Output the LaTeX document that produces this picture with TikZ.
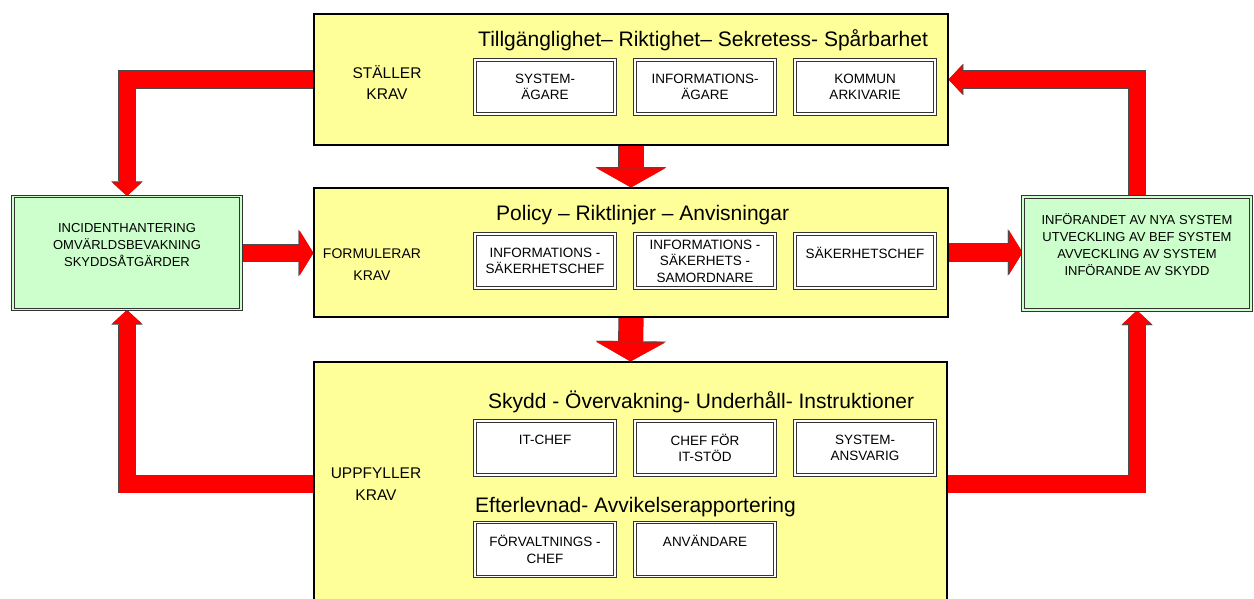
\documentclass[tikz,border=0pt]{standalone}
\usepackage{fontspec}
\setmainfont{Liberation Sans}
\usetikzlibrary{arrows.meta,positioning,backgrounds}
\definecolor{boxyellow}{HTML}{FFFF99}
\definecolor{boxgreen}{HTML}{CCFFCC}
\begin{document}
\begin{tikzpicture}[x=1pt,y=-1pt,
		bigbox/.style={rectangle,draw,line width=1.3pt,fill=boxyellow,inner sep=0pt},
		greenbox/.style={rectangle,draw=black!80,line width=1pt,double=boxgreen,double distance=1.5pt,fill=boxgreen,
			minimum width=228,minimum height=113,inner sep=0pt,align=center,font=\fontsize{13}{17}\selectfont},
		rolebox/.style={rectangle,draw=black!80,line width=1pt,double=white,double distance=1.5pt,fill=white,
			minimum width=140,minimum height=54,inner sep=0pt,align=center,font=\fontsize{13.5}{16.5}\selectfont},
		kravlabel/.style={align=center,inner sep=0pt,font=\fontsize{15.5}{21.5}\selectfont},
		heading/.style={anchor=base west,inner sep=0pt,font=\fontsize{21}{24}\selectfont},
		downarrow/.style={draw=red,line width=24pt,-{Triangle[length=19pt,width=68pt,line width=0.1pt]},
			preaction={draw=black!70,line width=25.2pt,-{Triangle[length=20.2pt,width=70.4pt,line width=0.1pt]}}},
		sidearrow/.style={draw=red,line width=17pt,-{Triangle[length=13.5pt,width=44pt,line width=0.1pt]},
			preaction={draw=black!70,line width=18.2pt,-{Triangle[length=14.7pt,width=46.4pt,line width=0.1pt]}}},
		cornerarrow/.style={draw=red,line width=17pt,-{Triangle[length=13.5pt,width=29pt,line width=0.1pt]},
			preaction={draw=black!70,line width=18.2pt,-{Triangle[length=14.7pt,width=31.4pt,line width=0.1pt]}}}
		]
		\useasboundingbox (0,0) rectangle (1254,599);
		\clip (0,0) rectangle (1254,599);

		\node[bigbox,minimum width=634,minimum height=131](Y0) at (631,79.5){};
		\node[bigbox,minimum width=634,minimum height=129](Y1) at (631,252.5){};
		\node[bigbox,minimum width=633,minimum height=300](Y2) at (630.5,512){};

		\node[kravlabel](L0) at (387,82.5){STÄLLER\\KRAV};
		\node[kravlabel, font=\fontsize{14}{21.5}\selectfont](L1) at (372,264.5){FORMULERAR\\KRAV};
		\node[kravlabel](L2) at (376,484){UPPFYLLER\\KRAV};

		\node[heading](H0) at (478,47){Tillgänglighet– Riktighet– Sekretess- Spårbarhet};
		\node[heading](H1) at (496,220){Policy – Riktlinjer – Anvisningar};
		\node[heading](H2) at (488,408){Skydd - Övervakning- Underhåll- Instruktioner};
		\node[heading](H3) at (475,512){Efterlevnad- Avvikelserapportering};

		\node[rolebox](R0) at (545,87){SYSTEM-\\ÄGARE};
		\node[rolebox, right=19pt of R0](R1){INFORMATIONS-\\ÄGARE};
		\node[rolebox, right=19pt of R1](R2){KOMMUN\\ARKIVARIE};
		\node[rolebox](R3) at (545,261){INFORMATIONS -\\SÄKERHETSCHEF};
		\node[rolebox, right=19pt of R3](R4){INFORMATIONS -\\SÄKERHETS -\\SAMORDNARE};
		\node[rolebox, right=19pt of R4](R5){SÄKERHETSCHEF\\\mbox{}};
		\node[rolebox](R6) at (545,448){IT-CHEF\\\mbox{}};
		\node[rolebox, right=19pt of R6](R7){CHEF FÖR\\IT-STÖD};
		\node[rolebox, right=19pt of R7](R8){SYSTEM-\\ANSVARIG};
		\node[rolebox](R9) at (545,549.5){FÖRVALTNINGS -\\CHEF};
		\node[rolebox, right=19pt of R9](R10){ANVÄNDARE\\\mbox{}};

		\node[greenbox](G0) at (127,253){INCIDENTHANTERING\\OMVÄRLDSBEVAKNING\\SKYDDSÅTGÄRDER\\\mbox{}};
		\node[greenbox](G1) at (1137,253.5){INFÖRANDET AV NYA SYSTEM\\UTVECKLING AV BEF SYSTEM\\AVVECKLING AV SYSTEM\\INFÖRANDE AV SKYDD\\\mbox{}};

		\begin{scope}[on background layer]
		\draw[downarrow] (Y0.south) -- (Y1.north);
		\draw[downarrow] (Y1.south) -- (Y2.north);
		\draw[sidearrow] (G0.east) -- (G0.east -| Y1.west);
		\draw[sidearrow] (Y1.east) -- (Y1.east -| G1.west);
		\draw[cornerarrow] (Y0.west) -| (G0.north);
		\draw[cornerarrow] (Y2.west |- L2) -| (G0.south);
		\draw[cornerarrow] (G1.north) |- (Y0.east);
		\draw[cornerarrow] (Y2.east |- L2) -| (G1.south);
		\end{scope}
	\end{tikzpicture}
\end{document}
